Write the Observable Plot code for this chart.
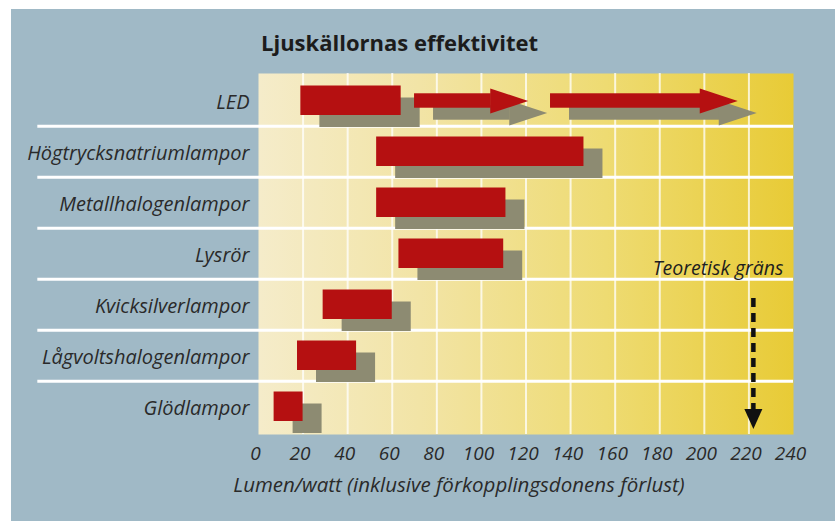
<!DOCTYPE html>
<html>
<head>
<meta charset="utf-8">
<script src="https://cdn.jsdelivr.net/npm/d3@7"></script>
<script src="https://cdn.jsdelivr.net/npm/@observablehq/plot@0.6"></script>
<style>
html, body { margin: 0; padding: 0; background: #ffffff; }
#wrap { position: absolute; left: 11px; top: 9px; width: 824px; height: 512px; background: #a0b9c6; overflow: hidden; }
#title { height: 53px; box-sizing: border-box; padding-left: 250px; padding-top: 20px; line-height: 27px;
  font-family: "Open Sans", sans-serif; font-weight: bold; font-size: 22px; color: #1c1c1c; white-space: nowrap; }
#chart svg { display: block; }
</style>
</head>
<body>
<div id="wrap">
  <div id="title"></div>
  <div id="chart"></div>
</div>
<script>
const titleText = "Ljuskällornas effektivitet";
const xLabel = "Lumen/watt (inklusive förkopplingsdonens förlust)";
const limitLabel = "Teoretisk gräns";

const categories = ["LED", "Högtrycksnatriumlampor", "Metallhalogenlampor", "Lysrör",
  "Kvicksilverlampor", "Lågvoltshalogenlampor", "Glödlampor"];
const lowValues  = [19, 53, 53, 63, 29, 17.5, 7];
const highValues = [64, 146, 111, 110, 60, 44, 20];

// LED future-development arrows
const ledArrowStarts = [70, 131];
const ledArrowEnds   = [121, 215];

const theoreticalLimit = 222;
const xTicks = [0, 20, 40, 60, 80, 100, 120, 140, 160, 180, 200, 220, 240];
const gridValues = [20, 40, 60, 80, 100, 120, 140, 160, 180, 200, 220];

document.getElementById("title").textContent = titleText;

const rows = categories.map((c, i) => ({category: c, low: lowValues[i], high: highValues[i]}));
const arrows = ledArrowStarts.map((s, i) => ({category: categories[0], start: s, end: ledArrowEnds[i]}));
const limitData = [{value: theoreticalLimit, from: categories[4], to: categories[6], labelRow: categories[3], label: limitLabel}];

const RED = "#b51011";
const SHADOW = "#8d8b72";
const SDX = 19, SDY = 12;
const HEAD_LEN = 38, HEAD_HALF = 12.5;

const arrowHeadRight = {
  draw(ctx) {
    ctx.moveTo(0, 0);
    ctx.lineTo(-HEAD_LEN, -HEAD_HALF);
    ctx.lineTo(-HEAD_LEN, HEAD_HALF);
    ctx.closePath();
  }
};
const arrowHeadDown = {
  draw(ctx) {
    ctx.moveTo(0, 0);
    ctx.lineTo(-9, -20);
    ctx.lineTo(9, -20);
    ctx.closePath();
  }
};

const W = 824, H = 459, MT = 11, MB = 87, ML = 247, MR = 42;
const bw = (H - MT - MB) / categories.length;
const barInsetTop = 10.5, barInsetBottom = 11;
const shaftInset = (bw - 15) / 2;

const plot = Plot.plot({
  width: W, height: H,
  marginTop: MT, marginBottom: MB, marginLeft: ML, marginRight: MR,
  style: {background: "transparent", fontFamily: "'Open Sans', sans-serif", fontSize: "20px", fontStyle: "italic", color: "#2a2a2a", overflow: "visible"},
  x: {domain: [0, 240], axis: null},
  y: {domain: categories, padding: 0, axis: null},
  marks: [
    Plot.frame({fill: "url(#panelgrad)", stroke: null}),
    Plot.ruleX(gridValues, {stroke: "#ffffff", strokeWidth: 2, strokeOpacity: 0.75}),
    Plot.ruleY(categories.slice(1), {x1: -99, x2: 240, dy: -bw / 2, stroke: "#ffffff", strokeWidth: 3}),
    // theoretical limit
    Plot.ruleX(limitData, {x: "value", y1: "from", y2: "to", stroke: "#111111", strokeWidth: 4.5, strokeDasharray: "9,6", insetTop: 19, insetBottom: 22}),
    Plot.dot(limitData, {x: "value", y: "to", symbol: arrowHeadDown, fill: "#111111", stroke: null, dy: 22}),
    Plot.text(limitData, {y: "labelRow", text: "label", frameAnchor: "right", textAnchor: "end", dx: -10, dy: 15, fill: "#1e1e1e", fontSize: 19.5}),
    // shadows
    Plot.barX(rows, {x1: "low", x2: "high", y: "category", fill: SHADOW, insetTop: barInsetTop, insetBottom: barInsetBottom, dx: SDX, dy: SDY}),
    Plot.barX(arrows, {x1: "start", x2: "end", y: "category", fill: SHADOW, insetTop: shaftInset, insetBottom: shaftInset, insetRight: HEAD_LEN - 1, dx: SDX, dy: SDY}),
    Plot.dot(arrows, {x: "end", y: "category", symbol: arrowHeadRight, fill: SHADOW, stroke: null, dx: SDX, dy: SDY}),
    // red bars and arrows
    Plot.barX(rows, {x1: "low", x2: "high", y: "category", fill: RED, insetTop: barInsetTop, insetBottom: barInsetBottom}),
    Plot.barX(arrows, {x1: "start", x2: "end", y: "category", fill: RED, insetTop: shaftInset, insetBottom: shaftInset, insetRight: HEAD_LEN - 1}),
    Plot.dot(arrows, {x: "end", y: "category", symbol: arrowHeadRight, fill: RED, stroke: null}),
    // axes
    Plot.axisY({tickSize: 0, tickPadding: 9, label: null, fontSize: 20, dy: 1.5}),
    Plot.axisX({ticks: xTicks, tickSize: 0, tickPadding: 12, label: null, fontSize: 19, dx: -3}),
    Plot.text([xLabel], {frameAnchor: "bottom", dx: -67, dy: 57, fontSize: 20.5})
  ]
});

const svg = d3.select(plot);
const defs = svg.insert("defs", ":first-child");
const grad = defs.append("linearGradient").attr("id", "panelgrad")
  .attr("x1", "0").attr("x2", "1").attr("y1", "0").attr("y2", "0");
[[0, "#f5ecca"], [0.3, "#f2e4a6"], [0.65, "#eedb72"], [1, "#e8cb36"]].forEach(([o, c]) =>
  grad.append("stop").attr("offset", o).attr("stop-color", c));

document.getElementById("chart").appendChild(plot);
</script>
</body>
</html>
